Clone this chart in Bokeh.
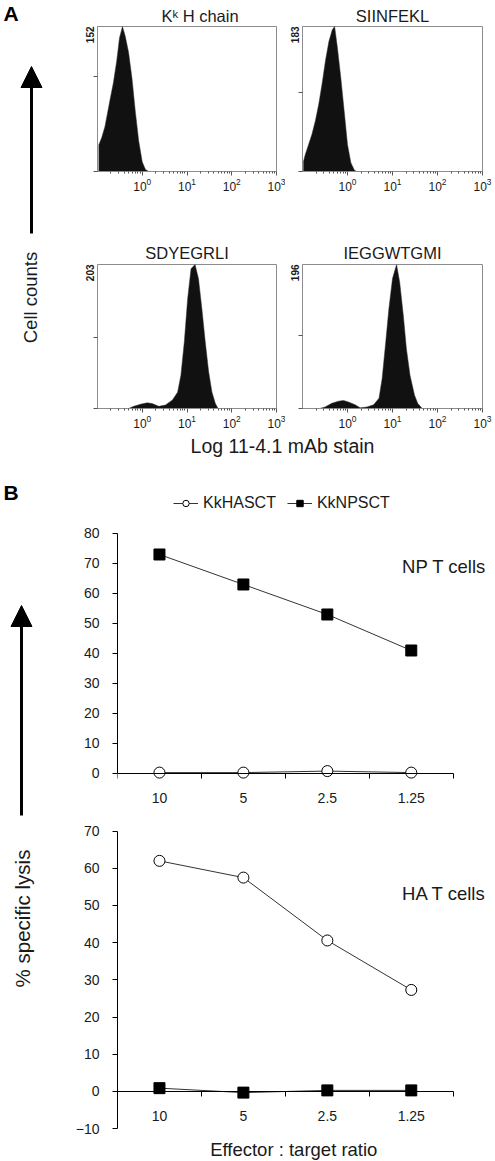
import numpy as np
from bokeh.plotting import figure
from bokeh.layouts import row, column
from bokeh.models import (Range1d, FixedTicker, Label, Title, CustomJSTickFormatter,
                          Arrow, NormalHead, Legend, LegendItem)
from bokeh.embed import file_html
from bokeh.resources import INLINE

FONT = "Liberation Sans"
INK = "#1a1a1a"

# ---------------- Panel A data (flow cytometry histograms) ----------------
hist_titles = ["K\u1d4f H chain", "SIINFEKL", "SDYEGRLI", "IEGGWTGMI"]
hist_max = [152, 183, 203, 196]

kk_log10 = [-0.97, -0.97, -0.909, -0.834, -0.721, -0.645, -0.570, -0.509, -0.442,
            -0.381, -0.306, -0.230, -0.155, -0.079, 0.0, 0.072, 0.147]
kk_count = [0, 28, 35, 47, 75, 93, 116, 140, 152, 142, 125, 98, 63, 32, 10, 2, 0]

siin_log10 = [-0.977, -0.977, -0.94, -0.865, -0.79, -0.714, -0.639, -0.564, -0.489,
              -0.414, -0.338, -0.286, -0.226, -0.150, -0.075, 0.0, 0.075, 0.150, 0.203]
siin_count = [0, 13, 21, 34, 47, 64, 85, 111, 140, 164, 179, 183, 157, 119, 77, 34, 11, 2, 0]

sdy_log10 = [-0.306, -0.19, -0.04, 0.11, 0.22, 0.37, 0.52, 0.675, 0.79, 0.864, 0.94,
             1.015, 1.09, 1.18, 1.257, 1.332, 1.408, 1.483, 1.558, 1.634, 1.694]
sdy_count = [0, 3, 6, 8, 7, 3, 5, 12, 23, 47, 94, 155, 197, 203, 183, 141, 94, 52, 23, 7, 0]

ieg_log10 = [-0.62, -0.50, -0.35, -0.20, -0.09, 0.02, 0.17, 0.28, 0.43, 0.58, 0.70,
             0.77, 0.85, 0.92, 1.0, 1.09, 1.16, 1.24, 1.31, 1.39, 1.49, 1.56, 1.66]
ieg_count = [0, 2, 7, 10, 11, 9, 5, 1, 2, 5, 14, 41, 91, 136, 177, 196, 172, 127, 81,
             45, 18, 7, 0]

hist_log10 = [kk_log10, siin_log10, sdy_log10, ieg_log10]
hist_count = [kk_count, siin_count, sdy_count, ieg_count]

# ---------------- Panel B data (cytotoxicity) ----------------
ratios = ["10", "5", "2.5", "1.25"]
series_names = ["KkHASCT", "KkNPSCT"]
np_tcells_kkhasct = [0.3, 0.3, 0.8, 0.3]
np_tcells_kknpsct = [73, 63, 53, 41]
ha_tcells_kkhasct = [62, 57.5, 40.6, 27.3]
ha_tcells_kknpsct = [0.9, -0.3, 0.3, 0.3]


def blank_fig(w, h):
    p = figure(width=w, height=h, x_range=Range1d(0, w), y_range=Range1d(h, 0),
               output_backend="svg", toolbar_location=None,
               x_axis_location=None, y_axis_location=None,
               min_border_left=0, min_border_right=0, min_border_top=0, min_border_bottom=0)
    p.grid.visible = False
    p.outline_line_color = None
    return p


def hist_fig(i, width, height, bl, br, bt, bb, title_standoff, title_align="center",
             title_offset=0):
    ymax = hist_max[i]
    p = figure(width=width, height=height, x_axis_type="log",
               x_range=Range1d(0.1, 1000), y_range=Range1d(0, ymax),
               output_backend="svg", toolbar_location=None,
               min_border_left=bl, min_border_right=br,
               min_border_top=bt, min_border_bottom=bb)
    p.grid.visible = False
    p.outline_line_color = "#8c8c8c"
    xs = [10.0 ** v for v in hist_log10[i]]
    p.patch(xs, hist_count[i], fill_color="#111111", line_color="#333333", line_width=0.5)

    xa = p.xaxis[0]
    minors = [k * 10.0 ** e for e in range(-1, 3) for k in range(2, 10)]
    xa.ticker = FixedTicker(ticks=[1, 10, 100, 1000], minor_ticks=minors)
    xa.axis_line_color = "#8c8c8c"
    xa.major_tick_line_color = "#555555"
    xa.minor_tick_line_color = "#555555"
    xa.major_tick_out = 4
    xa.major_tick_in = 0
    xa.minor_tick_out = 2
    xa.minor_tick_in = 0
    xa.major_label_text_font = FONT
    xa.major_label_text_font_size = "12px"
    xa.major_label_text_color = INK
    xa.major_label_standoff = 2

    ya = p.yaxis[0]
    ya.ticker = FixedTicker(ticks=[0, 100])
    ya.axis_line_color = "#8c8c8c"
    ya.major_tick_line_color = "#555555"
    ya.major_tick_out = 4
    ya.major_tick_in = 0
    ya.minor_tick_line_color = None
    ya.major_label_text_font_size = "1px"
    ya.major_label_text_color = None
    ya.major_label_standoff = 0

    p.title = Title(text=hist_titles[i], align=title_align, offset=title_offset,
                    text_font=FONT, text_font_size="16.5px", text_font_style="normal",
                    text_color=INK, standoff=title_standoff)
    p.add_layout(Title(text=str(ymax), align="right", text_font=FONT,
                       text_font_size="10px", text_font_style="bold", text_color=INK,
                       standoff=0, offset=0), "left")
    return p


def line_fig(height, ymin, ymax, yticks, ybounds, circ, sq, cells_text, cells_y,
             with_legend=False):
    n = len(ratios)
    xpos = [i + 0.5 for i in range(n)]  # centre of each ratio's slot
    p = figure(width=424, height=height, x_range=Range1d(0, n + 0.42),
               y_range=Range1d(ymin, ymax), output_backend="svg", toolbar_location=None,
               min_border_left=47, min_border_right=6, min_border_top=0,
               min_border_bottom=0)
    p.grid.visible = False
    p.outline_line_color = None

    ya = p.yaxis[0]
    ya.ticker = FixedTicker(ticks=yticks)
    ya.bounds = ybounds
    ya.axis_line_color = "black"
    ya.major_tick_line_color = "black"
    ya.major_tick_out = 5
    ya.major_tick_in = 0
    ya.minor_tick_line_color = None
    ya.major_label_text_font = FONT
    ya.major_label_text_font_size = "14px"
    ya.major_label_text_color = INK
    ya.major_label_standoff = 13

    xa = p.xaxis[0]
    xa.fixed_location = 0
    xa.bounds = (0, n)
    xa.ticker = FixedTicker(ticks=xpos, minor_ticks=list(range(n + 1)))
    xa.formatter = CustomJSTickFormatter(args=dict(labels=ratios),
                                         code="return labels[Math.floor(tick)];")
    xa.axis_line_color = "black"
    xa.major_tick_line_color = None
    xa.major_tick_out = 0
    xa.major_tick_in = 0
    xa.minor_tick_line_color = "black"
    xa.minor_tick_out = 5
    xa.minor_tick_in = 0
    xa.major_label_text_font = FONT
    xa.major_label_text_font_size = "14px"
    xa.major_label_text_color = INK
    xa.major_label_standoff = 15

    r_sq_line = p.line(xpos, sq, line_color="#333333", line_width=1)
    r_sq = p.scatter(xpos, sq, marker="square", size=11, fill_color="black",
                     line_color="black")
    r_c_line = p.line(xpos, circ, line_color="#333333", line_width=1)
    r_c = p.scatter(xpos, circ, marker="circle", size=11, fill_color="white",
                    line_color="black", line_width=1)

    p.add_layout(Label(x=3.39, y=cells_y, text=cells_text,
                       text_align="left", text_baseline="middle", text_font=FONT,
                       text_font_size="18.5px", text_color=INK))

    if with_legend:
        legend = Legend(items=[LegendItem(label=series_names[0], renderers=[r_c_line, r_c]),
                               LegendItem(label=series_names[1], renderers=[r_sq_line, r_sq])],
                        location=(56, 300), orientation="horizontal",
                        padding=0, margin=0, spacing=11, glyph_width=25, glyph_height=16,
                        label_standoff=5, label_text_font=FONT,
                        label_text_font_size="16px", label_text_color=INK,
                        border_line_color=None, background_fill_alpha=0)
        p.add_layout(legend)
    return p


# ---------------- Panel A layout ----------------
figA = blank_fig(70, 460)
figA.add_layout(Label(x=3, y=1, text="A", text_align="left", text_baseline="top",
                      text_font=FONT, text_font_size="21px", text_font_style="bold",
                      text_color="black"))
figA.add_layout(Arrow(end=NormalHead(size=21, fill_color="black", line_color="black"),
                      x_start=31, y_start=233, x_end=31, y_end=66,
                      line_width=3, line_color="black"))
figA.add_layout(Label(x=30, y=297, angle=np.pi / 2, text="Cell counts",
                      text_align="center", text_baseline="middle", text_font=FONT,
                      text_font_size="18.5px", text_color=INK))

h1 = hist_fig(0, 215, 200, 27, 9, 26, 29, 3, title_align="left", title_offset=64)
h2 = hist_fig(1, 209, 200, 17, 12, 26, 29, 3)
h3 = hist_fig(2, 215, 234, 27, 9, 64, 26, 6)
h4 = hist_fig(3, 209, 234, 17, 12, 64, 26, 6)

xlab = blank_fig(424, 26)
xlab.add_layout(Label(x=212, y=11, text="Log 11-4.1 mAb stain", text_align="center",
                      text_baseline="middle", text_font=FONT, text_font_size="19.5px",
                      text_color=INK))

# ---------------- Panel B layout ----------------
figB = blank_fig(70, 700)
figB.add_layout(Label(x=3, y=20, text="B", text_align="left", text_baseline="top",
                      text_font=FONT, text_font_size="21px", text_font_style="bold",
                      text_color="black"))
figB.add_layout(Arrow(end=NormalHead(size=21, fill_color="black", line_color="black"),
                      x_start=21, y_start=355, x_end=21, y_end=145,
                      line_width=3, line_color="black"))
figB.add_layout(Label(x=22, y=458, angle=np.pi / 2, text="% specific lysis",
                      text_align="center", text_baseline="middle", text_font=FONT,
                      text_font_size="20.5px", text_color=INK))

l1 = line_fig(352, -13, 104.33, list(range(0, 81, 10)), (0, 80),
              np_tcells_kkhasct, np_tcells_kknpsct, "NP T cells", 69, with_legend=True)
l2 = line_fig(348, -18.55, 75.0, list(range(-10, 71, 10)), (-10, 70),
              ha_tcells_kkhasct, ha_tcells_kknpsct, "HA T cells", 53.2)
l2.add_layout(Label(x=2.1, y=-15.6, text="Effector : target ratio", text_align="center",
                    text_baseline="middle", text_font=FONT, text_font_size="18.5px",
                    text_color=INK))

top = row(figA, column(row(h1, h2), row(h3, h4), xlab))
bottom = row(figB, column(l1, l2))
layout = column(top, bottom)

with open("out.html", "w") as f:
    f.write(file_html(layout, INLINE))
